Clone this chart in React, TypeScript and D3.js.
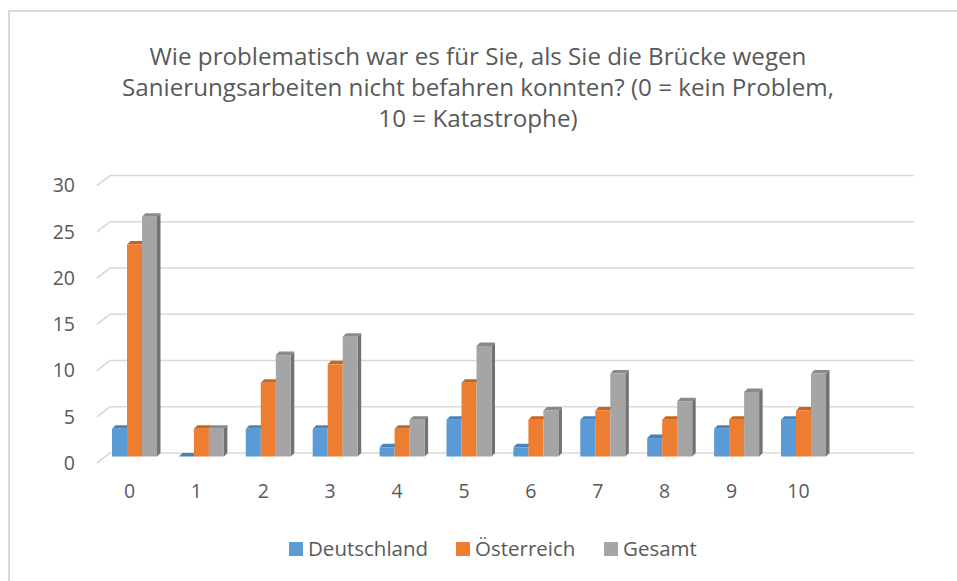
import * as d3 from "d3";

const categories = ["0", "1", "2", "3", "4", "5", "6", "7", "8", "9", "10"];
const seriesNames = ["Deutschland", "Österreich", "Gesamt"];
const deutschland = [3, 0, 3, 3, 1, 4, 1, 4, 2, 3, 4];
const oesterreich = [23, 3, 8, 10, 3, 8, 4, 5, 4, 4, 5];
const gesamt = [26, 3, 11, 13, 4, 12, 5, 9, 6, 7, 9];
const yTicks = [0, 5, 10, 15, 20, 25, 30];
const titleLines = [
  "Wie problematisch war es für Sie, als Sie die Brücke wegen",
  "Sanierungsarbeiten nicht befahren konnten? (0 = kein Problem,",
  "10 = Katastrophe)",
];

const seriesValues = [deutschland, oesterreich, gesamt];
const front = ["#5b9bd5", "#ed7d31", "#a5a5a5"];
const top = ["#4a83b8", "#c9651f", "#8a8a8a"];
const sideGray = "#727272";
const FONT = "'Open Sans', sans-serif";
const TEXT = "#595959";

export default function App() {
  const width = 957;
  const height = 581;

  // back wall of the 3D plot
  const yBack = d3.scaleLinear().domain([0, 30]).range([453, 175.5]);
  // front face of the bars sits a bit in front of the wall
  const yBar = d3.scaleLinear().domain([0, 30]).range([456.5, 180]);
  const depth = { dx: 13, dy: 10 };
  const barDepth = 3.5;
  const wallLeft = 110;
  const wallRight = 914;

  const x = d3
    .scaleBand()
    .domain(categories)
    .range([97, 841])
    .paddingInner(0.327)
    .paddingOuter(0.224);
  const xs = d3.scaleBand().domain(seriesNames).range([0, x.bandwidth()]);

  const legendItems = [
    { name: seriesNames[0], sq: 289, color: front[0] },
    { name: seriesNames[1], sq: 456, color: front[1] },
    { name: seriesNames[2], sq: 604, color: front[2] },
  ];

  return (
    <svg
      width={width}
      height={height}
      style={{ position: "absolute", left: 0, top: 0, background: "#fff" }}
    >
      <rect x={9} y={11} width={1000} height={1000} fill="#fff" stroke="#d9d9d9" strokeWidth={2} />

      {titleLines.map((t, i) => (
        <text
          key={i}
          x={478}
          y={65 + i * 31}
          textAnchor="middle"
          fontFamily={FONT}
          fontSize={24.2}
          fill={TEXT}
        >
          {t}
        </text>
      ))}

      {/* gridlines with the floor/side diagonal */}
      {yTicks.map((t) => {
        const yb = yBack(t);
        return (
          <g key={t}>
            <path
              d={`M${wallLeft - depth.dx},${yb + depth.dy}L${wallLeft},${yb}L${wallRight},${yb}`}
              fill="none"
              stroke="#d9d9d9"
              strokeWidth={1.6}
            />
            <text
              x={75}
              y={yb + depth.dy}
              dy="0.35em"
              textAnchor="end"
              fontFamily={FONT}
              fontSize={19.5}
              fill={TEXT}
            >
              {t}
            </text>
          </g>
        );
      })}

      {/* bars */}
      {categories.map((c, ci) => (
        <g key={c}>
          {seriesNames.map((s, si) => {
            const v = seriesValues[si][ci];
            const x0 = (x(c) ?? 0) + (xs(s) ?? 0);
            const w = xs.bandwidth();
            const y0 = yBar(0);
            const y1 = yBar(v);
            const d = barDepth;
            return (
              <g key={s}>
                {si === seriesNames.length - 1 && (
                  <path
                    d={`M${x0 + w},${y1}L${x0 + w + d},${y1 - d}L${x0 + w + d},${y0 - d}L${x0 + w},${y0}Z`}
                    fill={sideGray}
                  />
                )}
                <path
                  d={`M${x0},${y1}L${x0 + d},${y1 - d}L${x0 + w + d},${y1 - d}L${x0 + w},${y1}Z`}
                  fill={top[si]}
                />
                <rect x={x0} y={y1} width={w} height={Math.max(0, y0 - y1)} fill={front[si]} />
              </g>
            );
          })}
          <text
            x={(x(c) ?? 0) + x.bandwidth() / 2 - 5}
            y={498}
            textAnchor="middle"
            fontFamily={FONT}
            fontSize={19.5}
            fill={TEXT}
          >
            {c}
          </text>
        </g>
      ))}

      {/* legend */}
      {legendItems.map((l) => (
        <g key={l.name}>
          <rect x={l.sq} y={542} width={14} height={14} fill={l.color} />
          <text x={l.sq + 19} y={556} fontFamily={FONT} fontSize={20.5} fill={TEXT}>
            {l.name}
          </text>
        </g>
      ))}
    </svg>
  );
}
